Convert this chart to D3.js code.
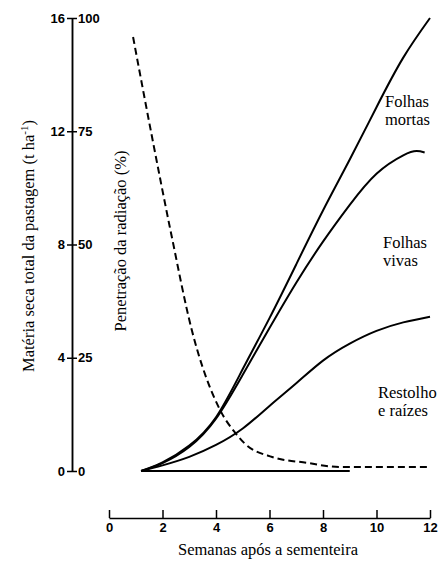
<!doctype html>
<html lang="pt">
  <head>
    <meta charset="utf-8">
    <script src="https://cdn.jsdelivr.net/npm/d3@7"></script>
    <style>
body { margin: 0; background: #fff; }
svg text { fill: #000; }
.curve { fill: none; stroke: #000; stroke-width: 2; }
.curve.dash { stroke-dasharray: 7 4; }
.axis path, .axis line { stroke: #000; stroke-width: 1.5; }
    </style>
  </head>
  <body>
    <svg id="chart" width="438" height="563"></svg>
    <script>
//=============================== DATA ===================================
var weekTicks = [0, 2, 4, 6, 8, 10, 12]
var massTicks = [0, 4, 8, 12, 16]
var pctTicks  = [0, 25, 50, 75, 100]

// cumulative dry matter (t/ha): total, stubble+roots+live leaves, stubble+roots
var total    = [[1.2, 0], [2, 0.3], [3, 0.9], [4, 1.9], [5, 3.6], [6, 5.4], [7, 7.3], [8, 9.2], [9, 11.0], [10, 12.85], [11, 14.6], [12, 16.0]]
var vivas    = [[1.2, 0], [2, 0.28], [3, 0.85], [4, 1.85], [5, 3.4], [6, 5.05], [7, 6.65], [8, 8.1], [9, 9.4], [10, 10.5], [11, 11.15], [11.5, 11.3], [11.8, 11.25]]
var restolho = [[1.2, 0], [2, 0.2], [3, 0.5], [4, 0.92], [5, 1.5], [6, 2.3], [7, 3.1], [8, 3.9], [9, 4.5], [10, 4.95], [11, 5.25], [12, 5.45]]
var base     = [[1.2, 0], [9, 0]]
// radiation penetration (%)
var radiacao = [[0.9, 95.8], [1.6, 74], [2.32, 52.5], [3.1, 31], [4.15, 13.5], [4.75, 8.2], [5.05, 6.2], [6.1, 3.1], [7.4, 1.8], [8.6, 0.9], [12, 0.9]]

var labels = [
	{ lines: ['Folhas', 'mortas'], x: 385, y: 107 },
	{ lines: ['Folhas', 'vivas'], x: 383, y: 248 },
	{ lines: ['Restolho', 'e raízes'], x: 378, y: 398 }
]
//=============================== DRAW ===================================
var serif = "font-family: 'Liberation Serif', 'Times New Roman', Times, serif; font-size: 16.5px;"
var sans  = "font-family: 'Liberation Sans', Arial, Helvetica, sans-serif; font-size: 13px; font-weight: bold;"

var svg = d3.select('#chart')

var x    = d3.scaleLinear().domain([0, 12]).range([109, 430])
var y    = d3.scaleLinear().domain([0, 16]).range([471, 18])
var yPct = d3.scaleLinear().domain([0, 100]).range([471, 18])
var axisX = 72

var line = d3.line()
	.x(function(d) { return x(d[0]) })
	.y(function(d) { return y(d[1]) })
	.curve(d3.curveNatural)

var linePct = d3.line()
	.x(function(d) { return x(d[0]) })
	.y(function(d) { return yPct(d[1]) })
	.curve(d3.curveMonotoneX)

// left axis: mass labels on left, percent labels on right
svg.append('g').attr('class', 'axis')
	.attr('transform', 'translate(' + axisX + ',0)')
	.call(d3.axisLeft(y).tickValues(massTicks).tickSize(5).tickSizeOuter(0).tickPadding(2))
svg.append('g').attr('class', 'axis')
	.attr('transform', 'translate(' + axisX + ',0)')
	.call(d3.axisRight(yPct).tickValues(pctTicks).tickSize(5).tickSizeOuter(0).tickPadding(1))

// bottom axis, ticks pointing up
svg.append('g').attr('class', 'axis')
	.attr('transform', 'translate(0,518)')
	.call(d3.axisBottom(x).tickValues(weekTicks).tickSize(-8).tickSizeOuter(0).tickPadding(5))

svg.selectAll('.axis').attr('font-family', null).attr('font-size', null)
svg.selectAll('.axis text').attr('style', sans)

svg.append('path').attr('class', 'curve').attr('d', line(base)).attr('stroke-width', 2.5)
svg.append('path').attr('class', 'curve').attr('d', line(total))
svg.append('path').attr('class', 'curve').attr('d', line(vivas))
svg.append('path').attr('class', 'curve').attr('d', line(restolho))
svg.append('path').attr('class', 'curve dash').attr('d', linePct(radiacao))

labels.forEach(function(l) {
	var t = svg.append('text').attr('style', serif).attr('x', l.x).attr('y', l.y)
	l.lines.forEach(function(s, i) {
		t.append('tspan').attr('x', l.x).attr('dy', i ? 18 : 0).text(s)
	})
})

// axis titles
var t1 = svg.append('text').attr('style', serif)
	.attr('transform', 'translate(34,246) rotate(-90)')
	.attr('text-anchor', 'middle')
t1.append('tspan').text('Matéria seca total da pastagem (t ha')
t1.append('tspan').attr('dy', -6).style('font-size', '11px').text('-1')
t1.append('tspan').attr('dy', 6).text(')')

svg.append('text').attr('style', serif)
	.attr('transform', 'translate(126,241) rotate(-90)')
	.attr('text-anchor', 'middle')
	.text('Penetração da radiação (%)')

svg.append('text').attr('style', serif)
	.attr('x', 268).attr('y', 555)
	.attr('text-anchor', 'middle')
	.text('Semanas após a sementeira')
    </script>
  </body>
</html>
